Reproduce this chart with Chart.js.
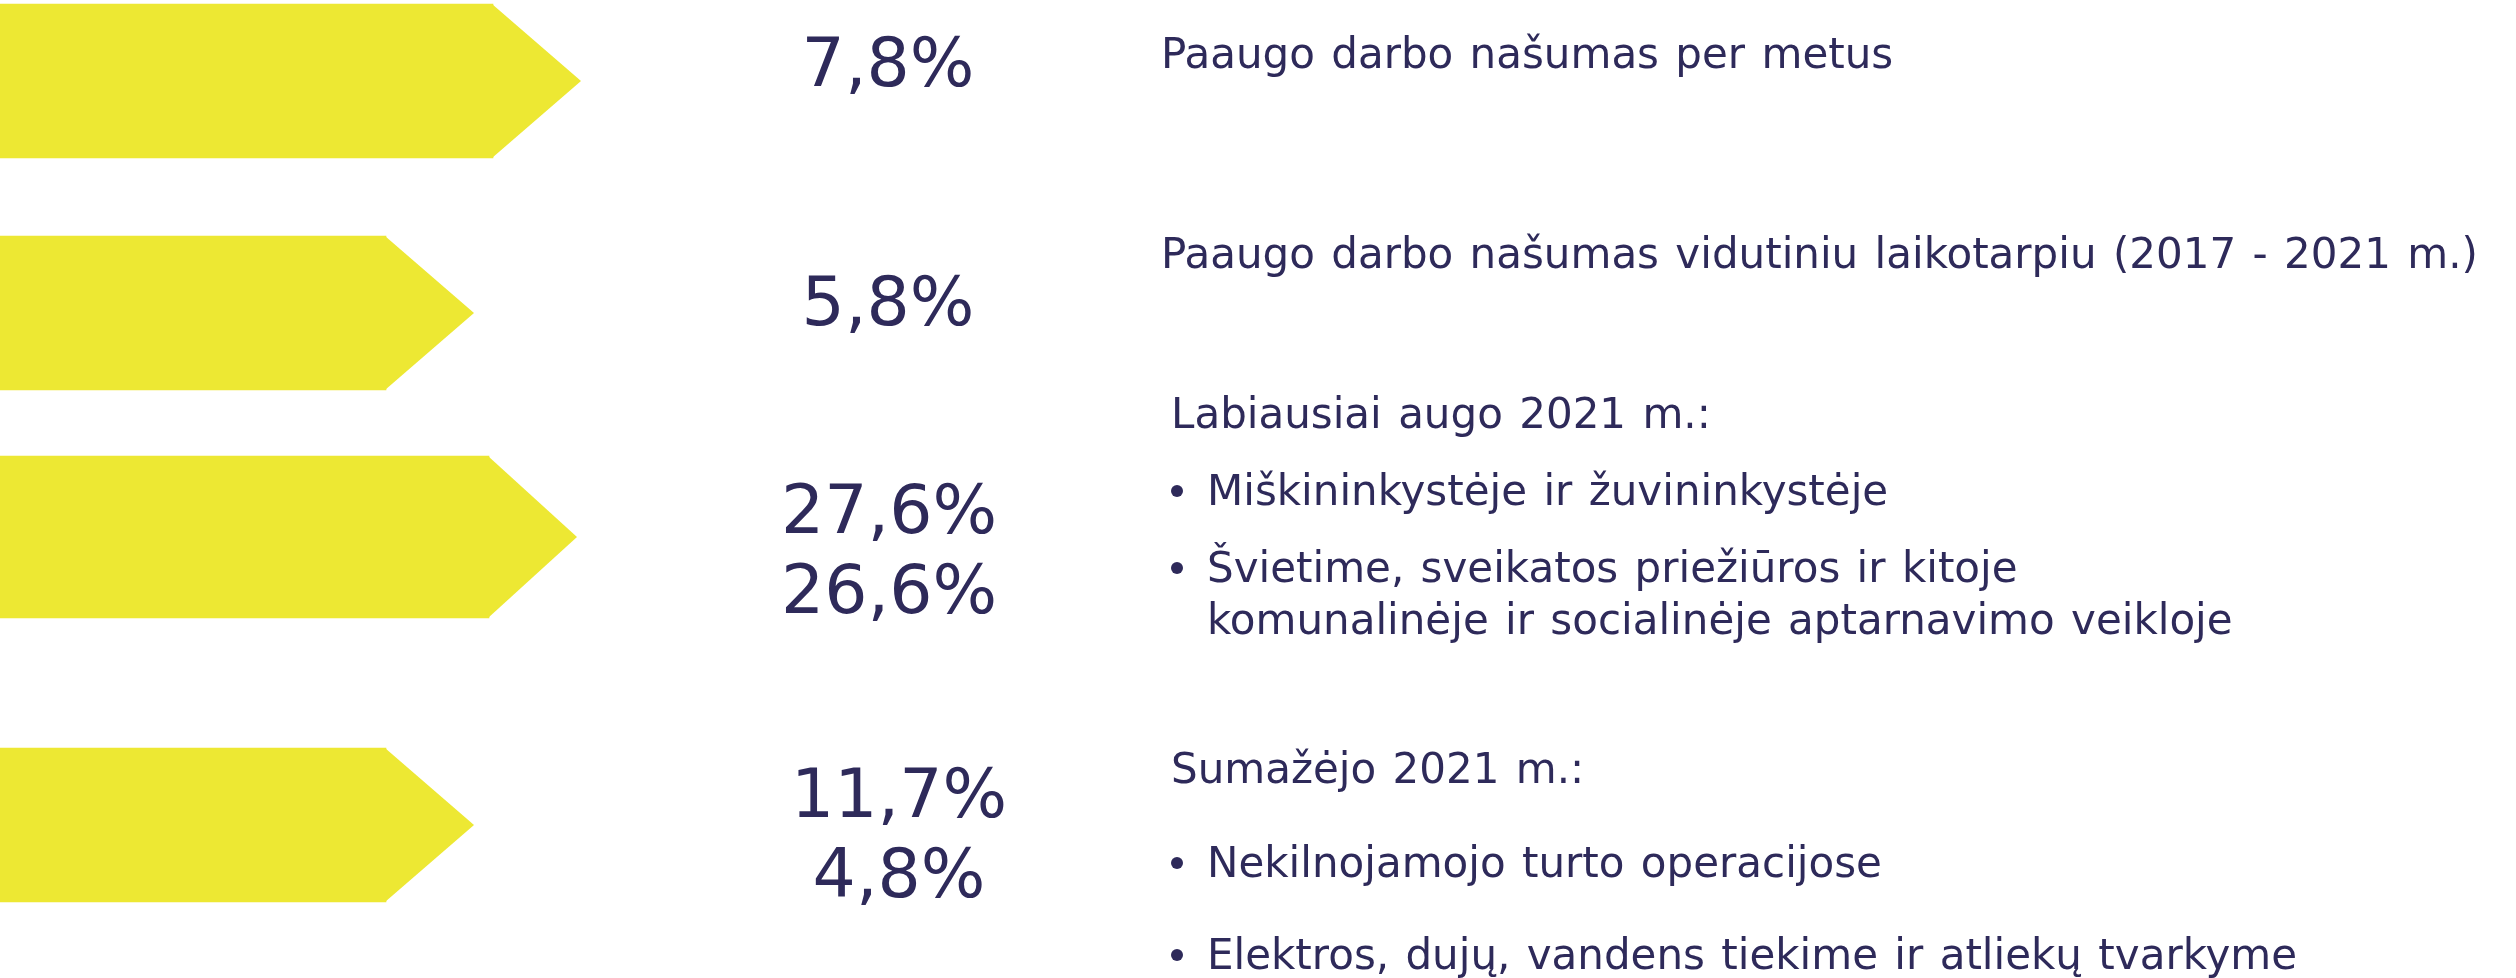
<!DOCTYPE html>
<html lang="lt">
<head>
<meta charset="utf-8">
<title>Darbo našumas</title>
<script src="https://cdn.jsdelivr.net/npm/chart.js@4/dist/chart.umd.min.js"></script>
<style>
    html, body { margin: 0; padding: 0; background: #fff; }
    #wrap { position: relative; width: 2516px; height: 978px; }
</style>
</head>
<body>
<div id="wrap"><canvas id="kpi"></canvas></div>
<script>
// arrow lengths (x scale units = px of the 2516 wide page)
const arrowLength = [493, 386, 489, 386];
// percent labels shown next to each arrow
const pctLabels = [['7,8%'], ['5,8%'], ['27,6%', '26,6%'], ['11,7%', '4,8%']];
// description text, one list of lines per row
const descLines = [
    [{ t: 'Paaugo darbo našumas per metus' }],
    [{ t: 'Paaugo darbo našumas vidutiniu laikotarpiu (2017 - 2021 m.)' }],
    [
        { t: 'Labiausiai augo 2021 m.:' },
        { t: 'Miškininkystėje ir žuvininkystėje', bullet: true },
        { t: 'Švietime, sveikatos priežiūros ir kitoje', bullet: true },
        { t: 'komunalinėje ir socialinėje aptarnavimo veikloje', indent: true }
    ],
    [
        { t: 'Sumažėjo 2021 m.:' },
        { t: 'Nekilnojamojo turto operacijose', bullet: true },
        { t: 'Elektros, dujų, vandens tiekime ir atliekų tvarkyme', bullet: true }
    ]
];

// layout
const rowCenter = [81, 313, 537, 825];
const arrowHeight = [154, 154, 162, 154];
const tipLength = 88;
const pctX = [888, 888, 889, 899];
const pctBase = [[86], [325], [533, 613], [817, 897]];
const descX = [1161, 1161, 1171, 1171];
const descBase = [[68], [268], [428, 505, 582, 634], [783, 877, 969]];

const YELLOW = '#EDE833';
const INK = '#2E2A5A';
const FONT = '"DejaVu Sans", Verdana, sans-serif';

const arrowTips = {
    id: 'arrowTips',
    afterDatasetsDraw(chart) {
        const ctx = chart.ctx;
        ctx.save();
        chart.data.datasets.forEach(function (ds, i) {
            const el = chart.getDatasetMeta(i).data[0];
            if (!el) return;
            const h = el.height / 2;
            ctx.beginPath();
            ctx.moveTo(el.x - 1, el.y - h);
            ctx.lineTo(el.x + tipLength, el.y);
            ctx.lineTo(el.x - 1, el.y + h);
            ctx.closePath();
            ctx.fillStyle = ds.backgroundColor;
            ctx.fill();
        });
        ctx.restore();
    }
};

const textLayer = {
    id: 'textLayer',
    afterDraw(chart) {
        const ctx = chart.ctx;
        const ys = chart.scales.y;
        const xs = chart.scales.x;
        ctx.save();
        ctx.fillStyle = INK;
        ctx.textBaseline = 'alphabetic';

        ctx.font = '68px ' + FONT;
        ctx.textAlign = 'center';
        pctLabels.forEach(function (lines, r) {
            lines.forEach(function (s, k) {
                ctx.fillText(s, xs.getPixelForValue(pctX[r]), ys.getPixelForValue(pctBase[r][k]));
            });
        });

        ctx.font = '42px ' + FONT;
        ctx.textAlign = 'left';
        if ('wordSpacing' in ctx) ctx.wordSpacing = '3px';
        descLines.forEach(function (lines, r) {
            lines.forEach(function (ln, k) {
                const x = xs.getPixelForValue(descX[r]);
                const y = ys.getPixelForValue(descBase[r][k]);
                if (ln.bullet) {
                    // round bullet dot
                    ctx.beginPath();
                    ctx.arc(x + 6, y - 14, 6, 0, Math.PI * 2);
                    ctx.fill();
                }
                ctx.fillText(ln.t, (ln.bullet || ln.indent) ? x + 36 : x, y);
            });
        });
        ctx.restore();
    }
};

new Chart(document.getElementById('kpi'), {
    type: 'bar',
    data: {
        datasets: arrowLength.map(function (v, i) {
            return {
                label: 'r' + (i + 1),
                data: [{ x: v, y: rowCenter[i] }],
                backgroundColor: YELLOW,
                borderWidth: 0,
                barThickness: arrowHeight[i],
                grouped: false
            };
        })
    },
    options: {
        indexAxis: 'y',
        responsive: true,
        maintainAspectRatio: false,
        animation: false,
        events: [],
        layout: { padding: 0 },
        plugins: {
            legend: { display: false },
            tooltip: { enabled: false }
        },
        scales: {
            x: { type: 'linear', display: false, min: 0, max: 2516, offset: false },
            y: { type: 'linear', display: false, min: 0, max: 978, reverse: true, offset: false }
        }
    },
    plugins: [arrowTips, textLayer]
});
</script>
</body>
</html>
